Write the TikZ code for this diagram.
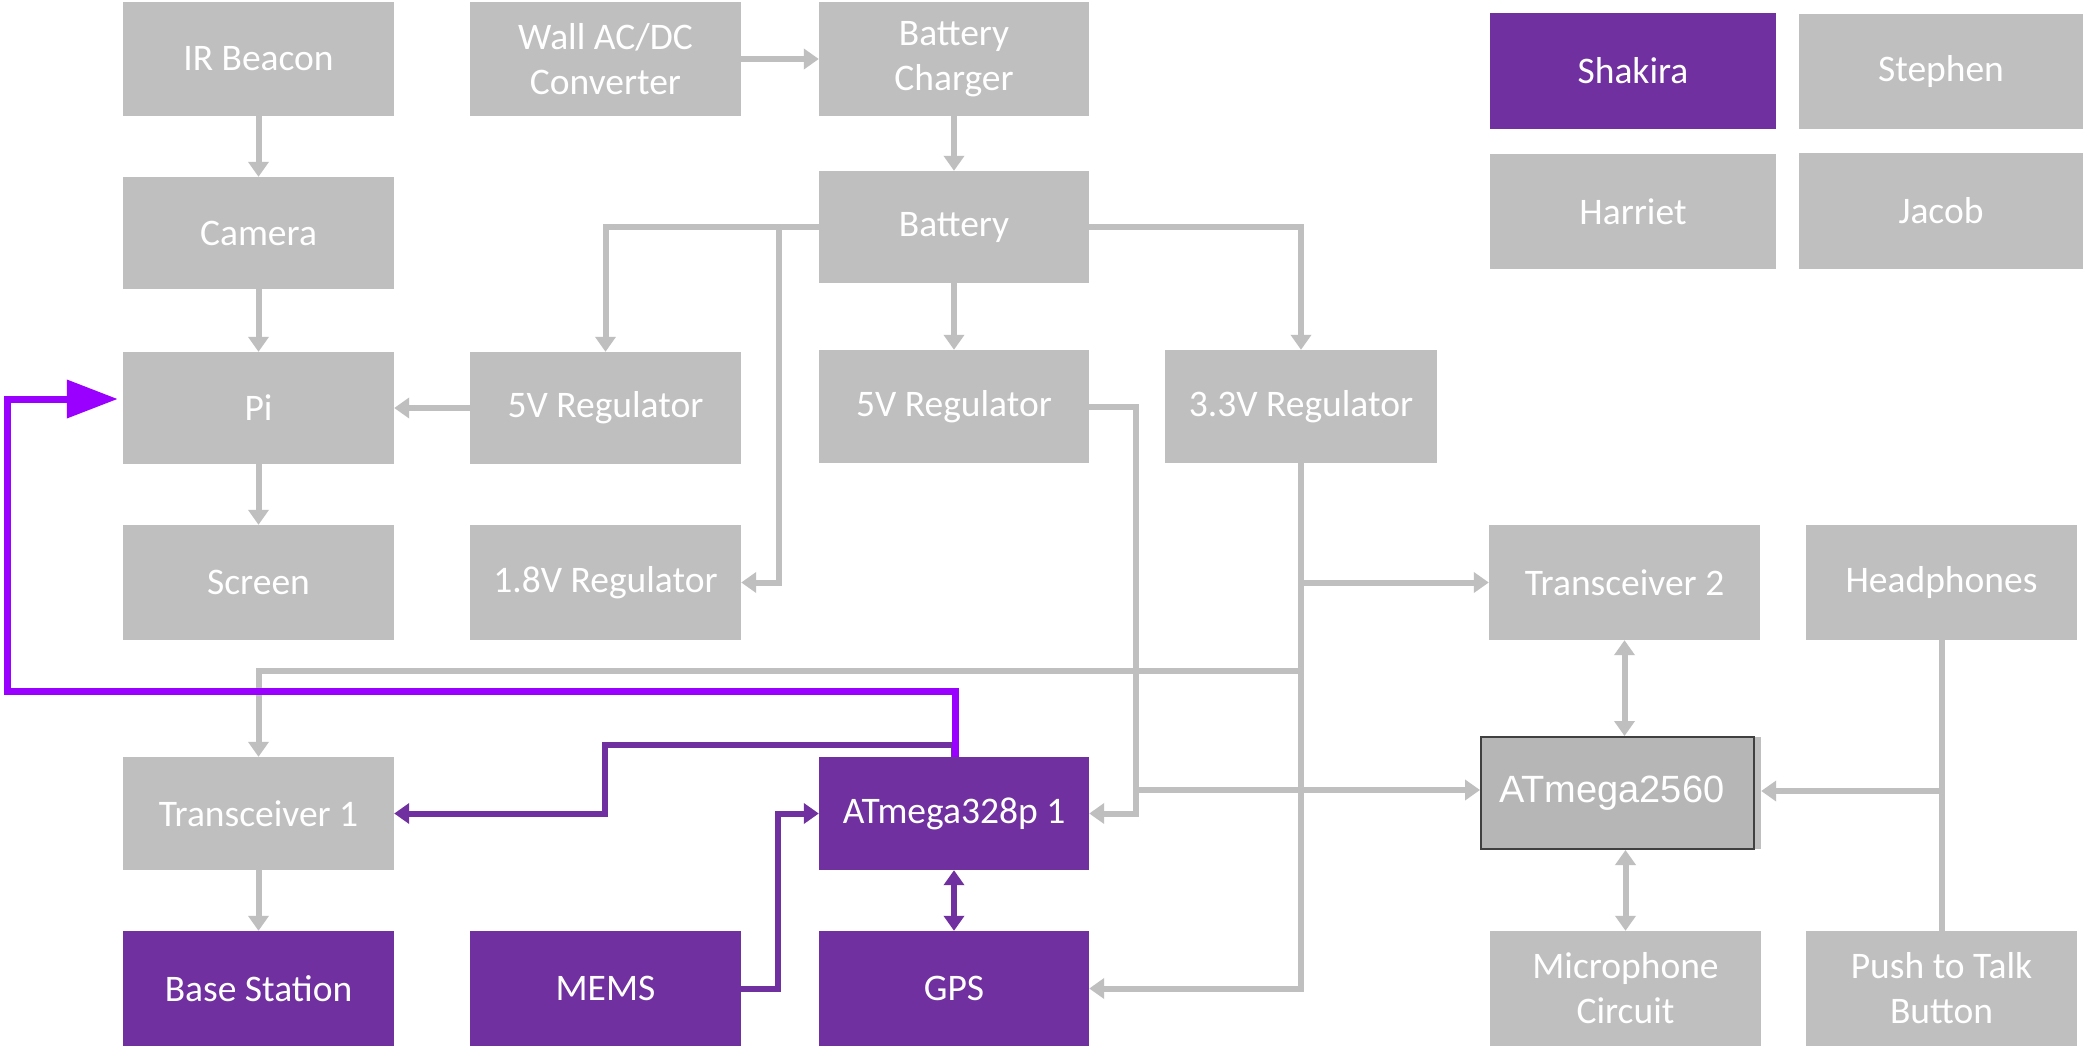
\documentclass[tikz,border=0pt]{standalone}
\usepackage{fontspec}
\setmainfont{Carlito}
\newfontfamily\arialfont{Liberation Sans}
\usetikzlibrary{arrows.meta}
\definecolor{boxgray}{HTML}{BFBFBF}
\definecolor{atmfill}{HTML}{B6B6B6}
\definecolor{boxpurple}{HTML}{7030A0}
\definecolor{violetline}{HTML}{9900FF}
\definecolor{darkborder}{HTML}{404040}
\begin{document}
\begin{tikzpicture}[x=1pt,y=-1pt,
  gbox/.style={rectangle, fill=boxgray, text=white, inner sep=0pt, align=center,
    font=\fontsize{37.5}{45}\selectfont, minimum width=271pt, minimum height=113pt},
  pbox/.style={gbox, fill=boxpurple},
  gline/.style={draw=boxgray, line width=6pt},
  garrow/.style={gline, -{Triangle[length=15pt,width=20pt]}},
  gdarrow/.style={gline, {Triangle[length=15pt,width=20pt]}-{Triangle[length=15pt,width=20pt]}},
  parrow/.style={draw=boxpurple, line width=6pt, -{Triangle[length=15pt,width=20pt]}},
  pdarrow/.style={draw=boxpurple, line width=6pt, {Triangle[length=15pt,width=20pt]}-{Triangle[length=15pt,width=20pt]}},
  varrow/.style={draw=violetline, line width=7pt, -{Triangle[length=51pt,width=37pt]}}
]
\fill[white] (0,0) rectangle (2083,1046);
\useasboundingbox (0,0) rectangle (2083,1046);

% column 1
\node[gbox, minimum height=114pt] (ir) at (258.5,59) {IR Beacon};
\node[gbox, minimum height=112pt] (cam) at (258.5,233) {Camera};
\node[gbox, minimum height=112pt] (pi) at (258.5,408) {Pi};
\node[gbox, minimum height=115pt] (screen) at (258.5,582.5) {Screen};
\node[gbox] (tr1) at (258.5,813.5) {Transceiver 1};
\node[pbox, minimum height=115pt] (base) at (258.5,988.5) {Base Station};
% column 2
\node[gbox, minimum height=114pt] (wall) at (605.5,59) {Wall AC/DC\\Converter};
\node[gbox, minimum height=112pt] (reg5a) at (605.5,408) {5V Regulator};
\node[gbox, minimum height=115pt] (reg18) at (605.5,582.5) {1.8V Regulator};
\node[pbox, minimum height=115pt] (mems) at (605.5,988.5) {MEMS};
% column 3
\node[gbox, minimum width=270pt, minimum height=114pt] (charger) at (954,59) {Battery\\Charger};
\node[gbox, minimum width=270pt, minimum height=112pt] (battery) at (954,227) {Battery};
\node[gbox, minimum width=270pt] (reg5b) at (954,406.5) {5V Regulator};
\node[pbox, minimum width=270pt] (atm328) at (954,813.5) {ATmega328p 1};
\node[pbox, minimum width=270pt, minimum height=115pt] (gps) at (954,988.5) {GPS};
% column 4
\node[gbox, minimum width=272pt] (reg33) at (1301,406.5) {3.3V Regulator};
% legend
\node[pbox, minimum width=286pt, minimum height=116pt] (shakira) at (1633,71) {Shakira};
\node[gbox, minimum width=284pt, minimum height=115pt] (stephen) at (1941,71.5) {Stephen};
\node[gbox, minimum width=286pt, minimum height=115pt] (harriet) at (1633,211.5) {Harriet};
\node[gbox, minimum width=284pt, minimum height=116pt] (jacob) at (1941,211) {Jacob};
% right part
\node[gbox, minimum height=115pt] (tr2) at (1624.5,582.5) {Transceiver 2};
\node[gbox, minimum height=115pt] (headphones) at (1941.5,582.5) {Headphones};
\node[gbox, minimum width=280pt, minimum height=112pt] (atmback) at (1621,793) {};
\node[draw=darkborder, line width=2pt, fill=atmfill, inner xsep=18pt, inner ysep=0pt,
  text width=237pt, align=left, minimum height=112pt, text=white,
  font=\arialfont\fontsize{38}{44}\selectfont] (atm2560) at (1617.5,793) {ATmega2560};
\node[gbox, minimum height=115pt] (mic) at (1625.5,988.5) {Microphone\\Circuit};
\node[gbox, minimum height=115pt] (ptt) at (1941.5,988.5) {Push to Talk\\Button};

% junction coordinates
\coordinate (j1) at (779,227);
\coordinate (j2) at (1136,406.5);
\coordinate (j3) at (1136,790);
\coordinate (j4) at (1301,582.5);
\coordinate (j5) at (1301,671);
\coordinate (j6) at (1941.5,791);
\coordinate (j7) at (778,988.5);
\coordinate (p1) at (954,745);
\coordinate (p2) at (605,813.5);
\coordinate (v1) at (955,691);
\coordinate (v2) at (7,691);
\coordinate (v3) at (7,399);

% gray connectors
\draw[garrow] (ir.south) -- (cam.north);
\draw[garrow] (cam.south) -- (pi.north);
\draw[garrow] (pi.south) -- (screen.north);
\draw[garrow] (tr1.south) -- (base.north);
\draw[garrow] (wall.east) -- (charger.west);
\draw[garrow] (charger.south) -- (battery.north);
\draw[garrow] (battery.south) -- (reg5b.north);
\draw[garrow] (battery.west) -| (reg5a.north);
\draw[garrow] (j1) |- (reg18.east);
\draw[garrow] (battery.east) -| (reg33.north);
\draw[garrow] (reg5a.west) -- (pi.east |- reg5a.west);
\draw[garrow] (reg5b.east) -- (j2) |- (atm328.east);
\draw[garrow] (j3) -- (j3 -| atm2560.west);
\draw[garrow] (reg33.south) |- (gps.east);
\draw[garrow] (j4) -- (tr2.west);
\draw[garrow] (j5) -| (tr1.north);
\draw[gline] (headphones.south) -- (ptt.north);
\draw[garrow] (j6) -- (j6 -| atmback.east);
\draw[gdarrow] (tr2.south) -- (tr2.south |- atm2560.north);
\draw[gdarrow] (mic.north) -- (mic.north |- atm2560.south);

% purple connectors
\draw[pdarrow] (atm328.south) -- (gps.north);
\draw[parrow] (mems.east) -- (j7) |- (atm328.west);
\draw[parrow] (atm328.north) -- (p1) -| (p2) -- (tr1.east);

% violet connector
\draw[varrow] ([xshift=1pt]atm328.north) -- (v1) -- (v2) -- (v3) -- ([xshift=-5pt,yshift=9pt]pi.west);
\end{tikzpicture}
\end{document}
